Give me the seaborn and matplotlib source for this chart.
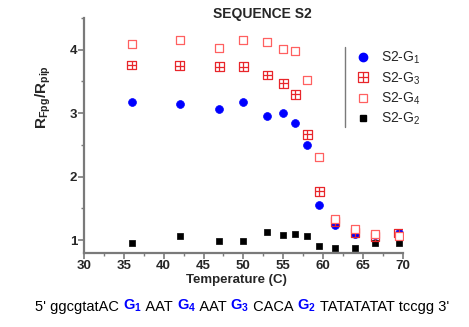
import matplotlib
matplotlib.use("Agg")
import matplotlib.pyplot as plt
import seaborn as sns
import numpy as np
import pandas as pd
from matplotlib.path import Path
from matplotlib.lines import Line2D
from matplotlib.ticker import MultipleLocator

temps = [36, 42, 47, 50, 53, 55, 56.5, 58, 59.5, 61.5, 64, 66.5, 69.5]
g1 = [3.17, 3.14, 3.07, 3.17, 2.96, 3.01, 2.84, 2.50, 1.55, 1.23, 1.09, 1.08, 1.11]
g3 = [3.76, 3.75, 3.73, 3.73, 3.60, 3.47, 3.30, 2.67, 1.77, 1.29, 1.12, 1.06, 1.11]
g4 = [4.09, 4.15, 4.03, 4.15, 4.12, 4.01, 3.98, 3.52, 2.31, 1.34, 1.18, 1.09, 1.06]
g2 = [0.95, 1.07, 0.99, 0.98, 1.12, 1.08, 1.10, 1.07, 0.91, 0.88, 0.88, 0.96, 0.96]
labels = ["S2-G$_1$", "S2-G$_3$", "S2-G$_4$", "S2-G$_2$"]
xticks = [30, 35, 40, 45, 50, 55, 60, 65, 70]
yticks = [1, 2, 3, 4]

sns.set_style("white")
plt.rcParams['font.family'] = ['Liberation Sans', 'DejaVu Sans']
plt.rcParams['mathtext.default'] = 'regular'

BLUE = "#0000ff"
RED = "#e8262b"
PINK = "#ff6060"

# square with cross marker
sq_verts = [(-1, -1), (1, -1), (1, 1), (-1, 1), (-1, -1),
            (0, -1), (0, 1), (-1, 0), (1, 0)]
sq_codes = [Path.MOVETO, Path.LINETO, Path.LINETO, Path.LINETO, Path.CLOSEPOLY,
            Path.MOVETO, Path.LINETO, Path.MOVETO, Path.LINETO]
cross_sq = Path(sq_verts, sq_codes)

fig = plt.figure(figsize=(4.69, 3.27), dpi=100)
ax = fig.add_axes([0.179, 0.227, 0.68, 0.718])

df = pd.DataFrame({"T": temps, "g1": g1, "g3": g3, "g4": g4, "g2": g2})

sns.scatterplot(data=df, x="T", y="g2", ax=ax, marker="s", color="black",
                s=24, edgecolor="black", linewidth=0.5, zorder=3)
sns.scatterplot(data=df, x="T", y="g1", ax=ax, marker="o", color=BLUE,
                s=32, edgecolor=BLUE, linewidth=0.5, zorder=3)
sns.scatterplot(data=df, x="T", y="g3", ax=ax, marker=cross_sq, facecolor="none",
                edgecolor=RED, s=40, linewidth=0.9, zorder=4)
sns.scatterplot(data=df, x="T", y="g4", ax=ax, marker="s", facecolor="white",
                edgecolor=PINK, s=28, linewidth=0.9, zorder=5)

ax.set_xlim(30, 70)
ax.set_ylim(0.8, 4.5)
ax.set_xticks(xticks)
ax.set_yticks(yticks)
ax.xaxis.set_minor_locator(MultipleLocator(2.5))
ax.yaxis.set_minor_locator(MultipleLocator(0.5))
ax.set_xlabel("")
ax.set_ylabel("")
for s in ["top", "right"]:
    ax.spines[s].set_visible(False)
for s in ["left", "bottom"]:
    ax.spines[s].set_color("#7a7a7a")
    ax.spines[s].set_linewidth(1.6)
ax.tick_params(which="major", direction="out", length=4, width=1.2, color="#7a7a7a",
               labelsize=9.5, left=True, bottom=True, pad=1.0)
ax.tick_params(which="minor", direction="out", length=2.5, width=1.0, color="#7a7a7a",
               left=True, bottom=True)
for lab in ax.get_xticklabels() + ax.get_yticklabels():
    lab.set_fontweight("bold")

# legend
handles = [
    Line2D([], [], linestyle="none", marker="o", markersize=6, color=BLUE),
    Line2D([], [], linestyle="none", marker=cross_sq, markersize=6.5, markerfacecolor="none",
           markeredgecolor=RED, markeredgewidth=0.9),
    Line2D([], [], linestyle="none", marker="s", markersize=5.5, markerfacecolor="white",
           markeredgecolor=PINK, markeredgewidth=0.9),
    Line2D([], [], linestyle="none", marker="s", markersize=5, color="black"),
]
leg = ax.legend(handles, labels, loc="upper left", bbox_to_anchor=(0.835, 0.887),
                frameon=False, fontsize=10, handlelength=1.0, handletextpad=0.8,
                labelspacing=0.27, borderaxespad=0)
fig.add_artist(Line2D([345 / 469, 345 / 469], [1 - 47 / 327, 1 - 127 / 327],
                      color="#7a7a7a", linewidth=1.0, transform=fig.transFigure))

fig.text(262 / 469, 1 - 14 / 327, "SEQUENCE S2", ha="center", va="center",
         fontsize=10, fontweight="bold")
fig.text(236 / 469, 1 - 280 / 327, "Temperature (C)", ha="center", va="center",
         fontsize=9.5, fontweight="bold")
fig.text(43 / 469, 1 - 97 / 327, "R$_{Fpg}$/R$_{pip}$", ha="center", va="center",
         rotation=90, fontsize=11, fontweight="bold")

# bottom sequence line
pieces = [("5' ggcgtatAC ", "black", "normal"), ("G$_1$", BLUE, "bold"),
          (" AAT ", "black", "normal"), ("G$_4$", BLUE, "bold"),
          (" AAT ", "black", "normal"), ("G$_3$", BLUE, "bold"),
          (" CACA ", "black", "normal"), ("G$_2$", BLUE, "bold"),
          (" TATATATAT tccgg 3'", "black", "normal")]
prev = fig.text(35 / 469, 1 - 311 / 327, pieces[0][0], color=pieces[0][1],
                fontweight=pieces[0][2], fontsize=10.5, ha="left", va="baseline")
for txt, col, wt in pieces[1:]:
    prev = ax.annotate(txt, xy=(1, 0), xycoords=prev, ha="left", va="bottom",
                       color=col, fontweight=wt, fontsize=10.5, annotation_clip=False)

fig.savefig("out.png", dpi=100)
